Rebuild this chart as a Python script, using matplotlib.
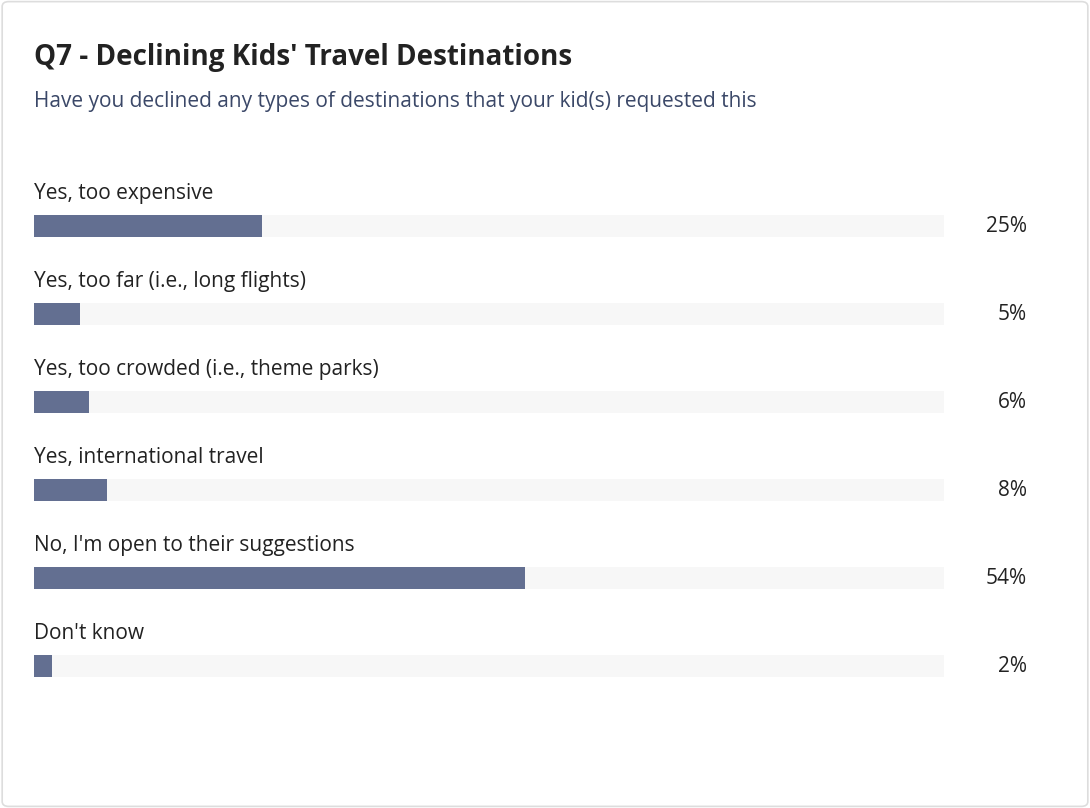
import matplotlib.pyplot as plt
from matplotlib.patches import FancyBboxPatch

categories = [
    "Yes, too expensive",
    "Yes, too far (i.e., long flights)",
    "Yes, too crowded (i.e., theme parks)",
    "Yes, international travel",
    "No, I'm open to their suggestions",
    "Don't know",
]
values = [25, 5, 6, 8, 54, 2]

BAR = "#636f91"
TRACK = "#f7f7f7"
TEXT = "#222222"
SUB = "#3b4868"

plt.rcParams['font.family'] = ['Open Sans', 'DejaVu Sans']

fig = plt.figure(figsize=(10.9, 8.08), dpi=100)
card = FancyBboxPatch((0.002, 0.002), 0.996, 0.996,
                      boxstyle="round,pad=0,rounding_size=0.006",
                      transform=fig.transFigure, facecolor="white",
                      edgecolor="#dddddd", linewidth=1.2, zorder=-1)
fig.patches.append(card)

fig.text(34 / 1090, 1 - 58 / 808, "Q7 - Declining Kids' Travel Destinations",
         fontsize=20, fontweight="bold", color=TEXT, va="center")
fig.text(34 / 1090, 1 - 101 / 808,
         "Have you declined any types of destinations that your kid(s) requested this",
         fontsize=15, color=SUB, va="center")

# axes spans the bar track: 0..100 across, one row per 88 px
ax = fig.add_axes([34 / 1090, 1 - 710 / 808, 910 / 1090, 560 / 808])
ax.set_zorder(2)
ax.set_xlim(0, 100)
ax.set_ylim(5.5, -0.864)
ax.axis("off")

ys = range(len(categories))
h = 22 / 88
ax.barh(ys, [100] * len(values), height=h, color=TRACK)
ax.barh(ys, values, height=h, color=BAR)
for y, cat, v in zip(ys, categories, values):
    ax.text(0, y - 0.37, cat, fontsize=15, color=TEXT, va="center", ha="left")
    ax.text(109.1, y, f"{v}%", fontsize=15, color=TEXT, va="center", ha="right",
            clip_on=False)

fig.savefig("out.png", dpi=100)
